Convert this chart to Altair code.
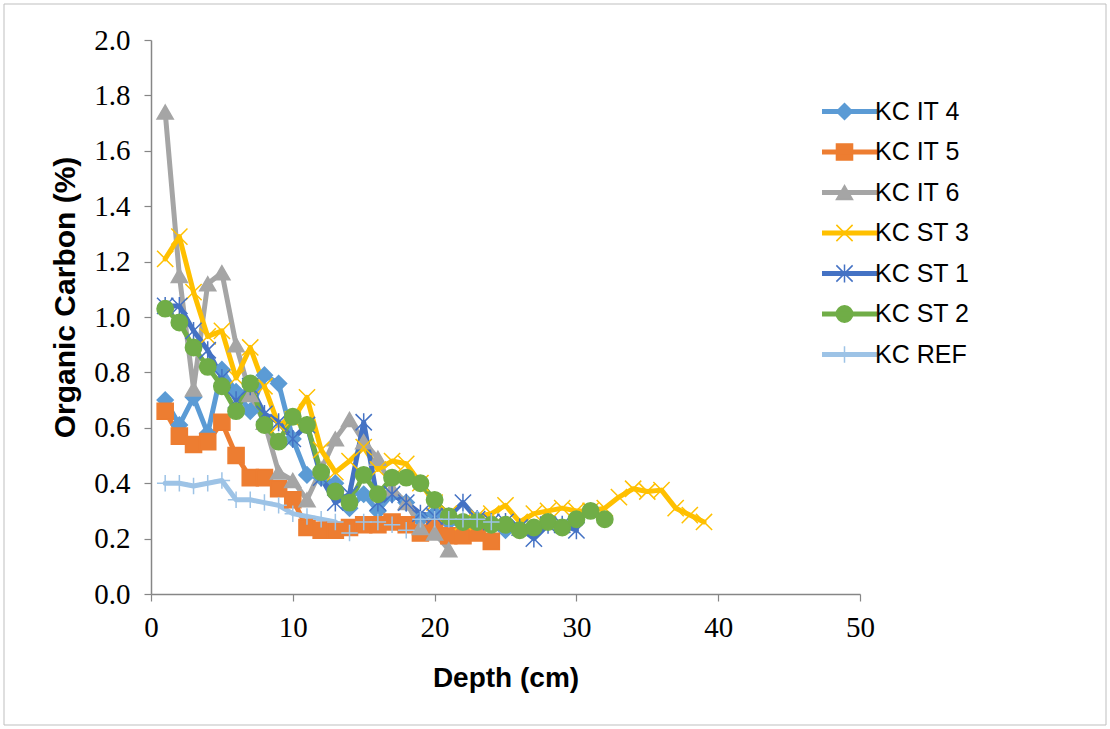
import altair as alt
import pandas as pd

# ---- data ----
series_names = ["KC IT 4", "KC IT 5", "KC IT 6", "KC ST 3", "KC ST 1", "KC ST 2", "KC REF"]

it4 = [0.70, 0.61, 0.71, 0.58, 0.81, 0.73, 0.66, 0.79, 0.76, 0.56, 0.43, 0.42, 0.40,
       0.31, 0.36, 0.30, 0.36, 0.33, 0.27, 0.29, 0.26, 0.25, 0.27, 0.25, 0.23]
it5 = [0.66, 0.57, 0.54, 0.55, 0.62, 0.50, 0.42, 0.42, 0.38, 0.34, 0.24, 0.23, 0.23,
       0.24, 0.25, 0.25, 0.26, 0.25, 0.22, 0.24, 0.21, 0.21, 0.22, 0.19]
it6 = [1.74, 1.15, 0.74, 1.12, 1.16, 0.90, 0.72, 0.62, 0.44, 0.41, 0.34, 0.45, 0.56,
       0.63, 0.55, 0.49, 0.38, 0.33, 0.24, 0.22, 0.16]
st3 = [1.21, 1.29, 1.09, 0.93, 0.95, 0.78, 0.89, 0.75, 0.61, 0.63, 0.71, 0.52, 0.44,
       0.48, 0.53, 0.45, 0.48, 0.47, 0.40, 0.33, 0.29, 0.26, 0.28, 0.29, 0.32, 0.26,
       0.29, 0.30, 0.31, 0.30, 0.30, 0.31, 0.35, 0.38, 0.37, 0.375, 0.31, 0.285, 0.26]
st1 = [1.04, 1.04, 0.95, 0.88, 0.78, 0.70, 0.75, 0.65, 0.62, 0.56, 0.61, 0.42, 0.33,
       0.36, 0.62, 0.33, 0.36, 0.33, 0.29, 0.28, 0.28, 0.33, 0.27, 0.26, 0.26, 0.24,
       0.20, 0.25, 0.25, 0.23]
st2 = [1.03, 0.98, 0.89, 0.82, 0.75, 0.66, 0.76, 0.61, 0.55, 0.64, 0.61, 0.44, 0.37,
       0.33, 0.43, 0.36, 0.42, 0.42, 0.40, 0.34, 0.28, 0.26, 0.26, 0.25, 0.25, 0.23,
       0.24, 0.26, 0.24, 0.27, 0.30, 0.27]
ref = [0.40, 0.40, 0.39, 0.40, 0.41, 0.34, 0.34, 0.33, 0.32, 0.29, 0.28, 0.27, 0.26,
       0.22, 0.26, 0.26, 0.25, 0.23, 0.27, 0.27, 0.27, 0.27, 0.27, 0.26]

x_ticks = [0, 10, 20, 30, 40, 50]
y_ticks = [0.0, 0.2, 0.4, 0.6, 0.8, 1.0, 1.2, 1.4, 1.6, 1.8, 2.0]

colors = ["#5B9BD5", "#ED7D31", "#A5A5A5", "#FFC000", "#4472C4", "#70AD47", "#9DC3E6"]
shapes = ["diamond", "square", "triangle-up",
          "M-1,-1L1,1M-1,1L1,-1",
          "M-1,-1L1,1M-1,1L1,-1M0,-1.1L0,1.1",
          "circle",
          "M0,-1L0,1M-1,0L1,0"]
sizes = [256, 270, 300, 420, 360, 470, 300]

rows = []
for name, vals in zip(series_names, [it4, it5, it6, st3, st1, st2, ref]):
    for i, v in enumerate(vals):
        rows.append({"series": name, "series_l": name + " ", "depth": i + 1, "oc": v})
df = pd.DataFrame(rows)
line_domain = [s + " " for s in series_names]

# ---- layout ----
PL, PT = 151, 40
W, H = 709, 554
PR, PB = 1110 - PL - W, 729 - PT - H

x_enc = alt.X("depth:Q", scale=alt.Scale(domain=[0, 50], nice=False),
              axis=alt.Axis(values=x_ticks, title="Depth (cm)", format="d",
                            labelFlush=False,
                            titleY=84, titleBaseline="middle"))
y_enc = alt.Y("oc:Q", scale=alt.Scale(domain=[0, 2], nice=False),
              axis=alt.Axis(values=y_ticks, title="Organic Carbon (%)", format=".1f",
                            labelFlush=False,
                            titleX=-86, titleY=257, titleBaseline="middle",
                            titleAngle=-90, titleFontSize=30))

line_legend = alt.Legend(orient="none", legendX=686, legendY=59, title=None,
                         padding=0, rowPadding=14.5,
                         symbolType="M-5,0L5,0", symbolSize=121, symbolStrokeWidth=5,
                         labelFont="Liberation Sans", labelFontSize=25,
                         labelColor="#000000", labelOffset=13)
point_legend = alt.Legend(orient="none", legendX=681, legendY=59, title=None,
                          padding=0, rowPadding=14.5, symbolStrokeWidth=1.5,
                          labelFont="Liberation Sans", labelFontSize=25,
                          labelExpr="''", labelOffset=13)

lines = alt.Chart(df).mark_line(strokeWidth=5, strokeJoin="round", strokeCap="round").encode(
    x=x_enc, y=y_enc,
    color=alt.Color("series_l:N", scale=alt.Scale(domain=line_domain, range=colors),
                    legend=line_legend),
)

points = alt.Chart(df).mark_point(filled=True, strokeWidth=1.5, opacity=1).encode(
    x=x_enc, y=y_enc,
    fill=alt.Fill("series:N", scale=alt.Scale(domain=series_names, range=colors),
                  legend=point_legend),
    stroke=alt.Stroke("series:N", scale=alt.Scale(domain=series_names, range=colors),
                      legend=point_legend),
    shape=alt.Shape("series:N", scale=alt.Scale(domain=series_names, range=shapes),
                    legend=point_legend),
    size=alt.Size("series:N", scale=alt.Scale(domain=series_names, range=sizes),
                  legend=point_legend),
)

border = alt.Chart(alt.Data(values=[{}])).mark_rect(
    fill=None, stroke="#BFBFBF", strokeWidth=1, clip=False
).encode(
    x=alt.value(4 - PL), x2=alt.value(1106 - PL),
    y=alt.value(4 - PT), y2=alt.value(725 - PT),
)

chart = alt.layer(border, lines, points).resolve_scale(
    color="independent"
).properties(
    width=W, height=H,
    autosize=alt.AutoSizeParams(type="none"),
    padding={"left": PL, "top": PT, "right": PR, "bottom": PB},
    background="white",
).configure_view(stroke=None).configure_axis(
    grid=False, domainColor="#868686", tickColor="#868686", domainWidth=1.5,
    tickWidth=1.2, tickSize=7,
    labelFont="Liberation Serif", labelFontSize=29, labelColor="#000000",
    titleFont="Liberation Sans", titleFontSize=28, titleFontWeight="bold",
    titleColor="#000000",
).configure_axisX(labelPadding=12).configure_axisY(labelPadding=14)

chart.save("out.html", embed_options={"renderer": "svg", "actions": False})
